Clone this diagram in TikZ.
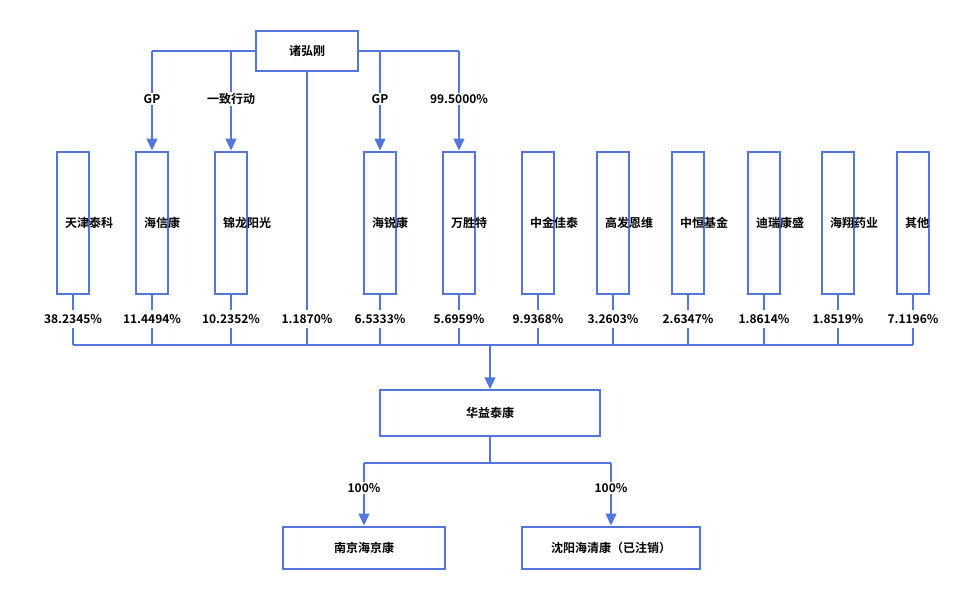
\documentclass[tikz,border=0pt]{standalone}
\usepackage{fontspec}
\setmainfont{Noto Sans CJK SC}[BoldFont={Noto Sans CJK SC Bold}]
\usetikzlibrary{arrows.meta}
\begin{document}
\begin{tikzpicture}[x=0.75pt,y=-0.75pt,font=\bfseries\small]
        %colores
        \colorlet{lnk}{blue!55!cyan!70!black}
        \definecolor{lnk}{RGB}{82,118,218}
        \tikzset{
            caja/.style={draw=lnk,line width=1.6pt,fill=white,inner sep=0pt},
            vcaja/.style={caja,minimum width=24pt,minimum height=107pt,text width=12pt,align=center},
            linea/.style={draw=lnk,line width=1.6pt},
            flecha/.style={linea,-{Triangle[width=8pt,length=9pt]}},
            etiq/.style={fill=white,inner sep=1pt}
        }
        \useasboundingbox (0,0) rectangle (960,589);

        % caja superior
        \node[caja,minimum width=76pt,minimum height=30pt] (zhu) at (307,51) {诸弘刚};

        % cajas verticales
        \foreach \n/\x/\t in {tj/73/天津泰科,hx/152/海信康,jl/231/锦龙阳光,hr/380/海锐康,ws/459/万胜特,zj/538/中金佳泰,gf/613/高发恩维,zh/688/中恒基金,dr/764/迪瑞康盛,hy/838/海翔药业,qt/913/其他}
            \node[vcaja] (\n) at (\x,223) {\t};

        % porcentajes
        \foreach \n/\p in {tj/38.2345\%,hx/11.4494\%,jl/10.2352\%,hr/6.5333\%,ws/5.6959\%,zj/9.9368\%,gf/3.2603\%,zh/2.6347\%,dr/1.8614\%,hy/1.8519\%,qt/7.1196\%}
            \node (p\n) at (\n.south |- 0,319) {\p};
        \node (pzhu) at (307,319) {1.1870\%};

        % bus
        \coordinate (bl) at (73,345);
        \coordinate (br) at (913,345);
        \draw[linea] (bl) -- (br);
        \foreach \n in {tj,hx,jl,hr,ws,zj,gf,zh,dr,hy,qt}
            \draw[linea] (\n.south) -- (p\n.north) (p\n.south) -- (p\n.south |- bl);
        \draw[linea] (zhu.south) -- (pzhu.north) (pzhu.south) -- (pzhu.south |- bl);

        % ramas superiores
        \draw[linea] (zhu.west) -- (152,51) (zhu.east) -- (459,51);
        \foreach \n/\l in {hx/GP,jl/一致行动,hr/GP,ws/99.5000\%}
            \draw[flecha] (\n.north |- zhu.west) -- node[etiq,pos=0.48] {\l} (\n.north);

        % huayi
        \node[caja,minimum width=165pt,minimum height=34pt] (hy2) at (490,413) {华益泰康};
        \draw[flecha] (490,345) -- (hy2.north);

        \node[caja,minimum width=121pt,minimum height=32pt] (nj) at (364,548) {南京海京康};
        \node[caja,minimum width=133pt,minimum height=32pt] (sy) at (611,548) {沈阳海清康（已注销）};
        \coordinate (mid) at (490,463);
        \draw[linea] (hy2.south) -- (mid);
        \draw[linea] (nj.north |- mid) -- (sy.north |- mid);
        \draw[flecha] (nj.north |- mid) -- node[etiq,pos=0.4] {100\%} (nj.north);
        \draw[flecha] (sy.north |- mid) -- node[etiq,pos=0.4] {100\%} (sy.north);
\end{tikzpicture}
\end{document}
